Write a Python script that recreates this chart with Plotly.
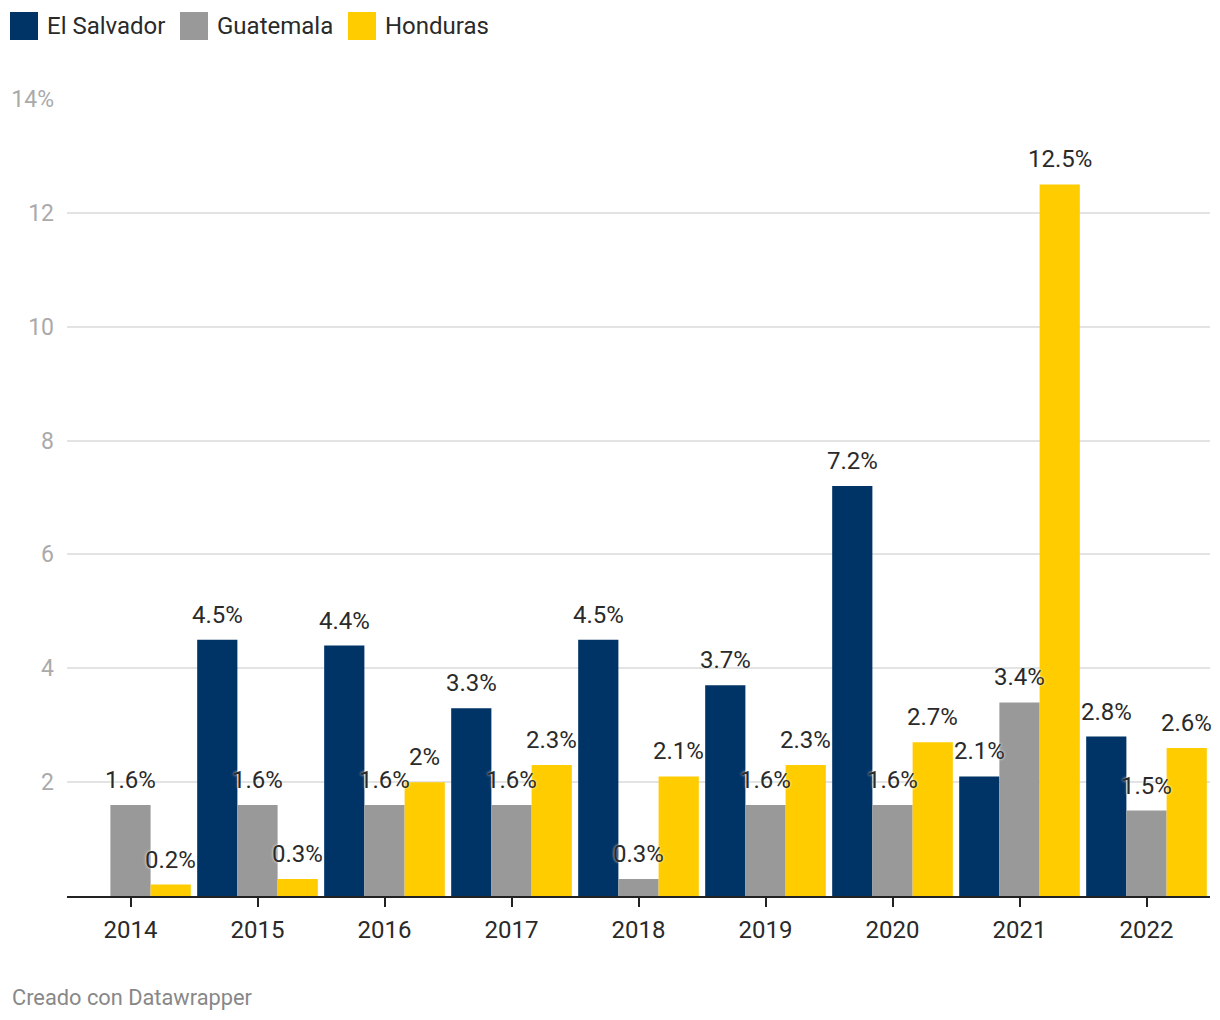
import plotly.graph_objects as go

years = ["2014", "2015", "2016", "2017", "2018", "2019", "2020", "2021", "2022"]
el_salvador = [None, 4.5, 4.4, 3.3, 4.5, 3.7, 7.2, 2.1, 2.8]
guatemala = [1.6, 1.6, 1.6, 1.6, 0.3, 1.6, 1.6, 3.4, 1.5]
honduras = [0.2, 0.3, 2.0, 2.3, 2.1, 2.3, 2.7, 12.5, 2.6]
series_names = ["El Salvador", "Guatemala", "Honduras"]
series_colors = ["#003366", "#999999", "#ffcc00"]
y_tickvals = [2, 4, 6, 8, 10, 12, 14]
y_ticktext = ["2", "4", "6", "8", "10", "12", "14%"]

FONT = "Roboto"
BARGAP = 0.05

fig = go.Figure()
series = [el_salvador, guatemala, honduras]
for name, vals, col in zip(series_names, series, series_colors):
    fig.add_trace(go.Bar(x=years, y=vals, name=name, marker_color=col,
                         marker_line_width=0, showlegend=False))

# value labels
w = (1 - BARGAP) / 3
annotations = []
for j, vals in enumerate(series):
    for i, v in enumerate(vals):
        if v is None:
            continue
        txt = f"{v:g}%"
        annotations.append(dict(
            x=i + (j - 1) * w, y=v, xref="x", yref="y", text=txt,
            showarrow=False, yanchor="bottom", yshift=9,
            font=dict(family=FONT, size=24, color="#2a2a2a",
                      shadow="0px 0px 3px white")))

# legend
lx = [10, 180, 348]
ly = 1 + (99 - 26) / 797
for name, col, x0 in zip(series_names, series_colors, lx):
    annotations.append(dict(text=name, xref="paper", yref="paper",
                            x=(x0 + 35 - 67) / 1143, y=ly,
                            xanchor="left", yanchor="middle", showarrow=False,
                            font=dict(family=FONT, size=24, color="#2a2a2a")))

annotations.append(dict(text="Creado con Datawrapper", xref="paper", yref="paper",
                        x=(10 - 67) / 1143, y=-(997 - 896) / 797,
                        xanchor="left", yanchor="middle", showarrow=False,
                        font=dict(family=FONT, size=21.8, color="#888888")))

shapes = []
for name, col, x0 in zip(series_names, series_colors, lx):
    shapes.append(dict(type="rect", xref="paper", yref="paper",
                       xsizemode="pixel", ysizemode="pixel",
                       xanchor=(x0 - 67) / 1143, yanchor=ly,
                       x0=0, x1=28, y0=-14, y1=14,
                       fillcolor=col, line_width=0, layer="above"))

fig.update_layout(
    width=1220, height=1020,
    margin=dict(l=67, r=10, t=99, b=124),
    paper_bgcolor="white", plot_bgcolor="white",
    barmode="group", bargap=BARGAP, bargroupgap=0,
    font=dict(family=FONT, size=22, color="#2a2a2a"),
    annotations=annotations,
    shapes=shapes,
    xaxis=dict(type="category", range=[-0.5, 8.5], showline=True, linecolor="#222222",
               linewidth=2, ticks="outside", ticklen=9, tickwidth=2, tickcolor="#222222",
               ticklabelstandoff=2,
               showgrid=False, tickfont=dict(family=FONT, size=24, color="#2a2a2a")),
    yaxis=dict(range=[0, 14], tickvals=y_tickvals, ticktext=y_ticktext,
               showgrid=True, gridcolor="#e3e3e3", gridwidth=2, zeroline=False,
               showline=False, ticks="", ticklabelstandoff=12,
               tickfont=dict(family=FONT, size=23, color="#aaaaaa")),
)

fig.write_html("out.html", config={"displayModeBar": False},
               post_script="document.body.style.margin='0';")
